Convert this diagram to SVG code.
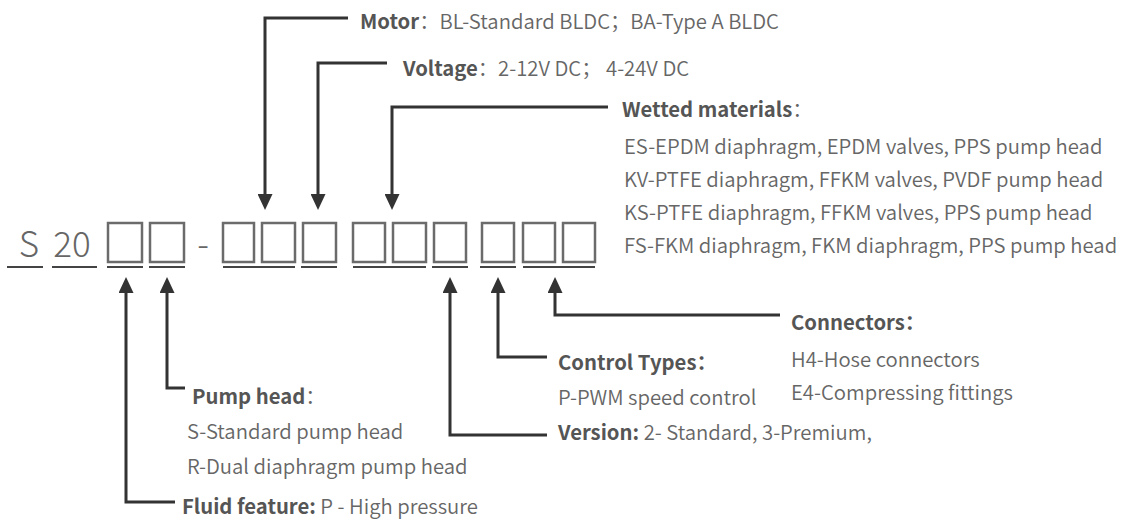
<svg xmlns="http://www.w3.org/2000/svg" width="1127" height="520" viewBox="0 0 1127 520">
<defs>
<style>
text{font-family:"Noto Sans CJK SC","Noto Sans",sans-serif;fill:#666;font-size:20.3px;font-weight:350}
.b{font-weight:bold;fill:#555}
.big{font-size:35px;font-weight:300;fill:#666}
.box{fill:none;stroke:#6b6b6b;stroke-width:2.5}
.ul{stroke:#444;stroke-width:2.2;fill:none}
.ln{fill:none;stroke:#333;stroke-width:3}
</style>
<marker id="ah" viewBox="0 0 16 15" refX="0" refY="7.5" markerWidth="16" markerHeight="15" markerUnits="userSpaceOnUse" orient="auto">
<path d="M0,0 L16,7.5 L0,15 Z" fill="#333"/>
</marker>
</defs>
<rect width="1127" height="520" fill="#fff"/>
<g id="code">
<text class="big" x="29" y="257" text-anchor="middle">S</text>
<text class="big" x="72" y="257" text-anchor="middle">20</text>
<text class="big" x="203" y="257" text-anchor="middle">-</text>
<rect class="box" x="108" y="223" width="34" height="39"/>
<rect class="box" x="150" y="223" width="34" height="39"/>
<rect class="box" x="223" y="223" width="31" height="39"/>
<rect class="box" x="262" y="223" width="33" height="39"/>
<rect class="box" x="303" y="223" width="33" height="39"/>
<rect class="box" x="353" y="223" width="32" height="39"/>
<rect class="box" x="393" y="223" width="33" height="39"/>
<rect class="box" x="434" y="223" width="32" height="39"/>
<rect class="box" x="482" y="223" width="32" height="39"/>
<rect class="box" x="523" y="223" width="32" height="39"/>
<rect class="box" x="563" y="223" width="32" height="39"/>
<path class="ul" d="M7,267H43M52,267H97M107,267H143M149,267H185M223,267H295M301,267H337M353,267H426M432,267H468M480,267H516M523,267H595"/>
</g>
<g id="connectors">
<path class="ln" marker-end="url(#ah)" d="M348,18H265V194"/>
<path class="ln" marker-end="url(#ah)" d="M387,63H318V194"/>
<path class="ln" marker-end="url(#ah)" d="M608,107H392V194"/>
<path class="ln" marker-end="url(#ah)" d="M185,388H167V293"/>
<path class="ln" marker-end="url(#ah)" d="M175,502H126V293"/>
<path class="ln" marker-end="url(#ah)" d="M547,435H450V293"/>
<path class="ln" marker-end="url(#ah)" d="M547,357H498V293"/>
<path class="ln" marker-end="url(#ah)" d="M780,315H555V293"/>
</g>
<g id="motor">
<text x="360" y="29"><tspan class="b">Motor</tspan>：BL-Standard BLDC；BA-Type A BLDC</text>
</g>
<g id="voltage">
<text x="403" y="76"><tspan class="b">Voltage</tspan>：2-12V DC； 4-24V DC</text>
</g>
<g id="wetted">
<text x="622" y="117"><tspan class="b">Wetted materials</tspan>：</text>
<text x="624" y="154">ES-EPDM diaphragm, EPDM valves, PPS pump head</text>
<text x="624" y="187">KV-PTFE diaphragm, FFKM valves, PVDF pump head</text>
<text x="624" y="220">KS-PTFE diaphragm, FFKM valves, PPS pump head</text>
<text x="624" y="253">FS-FKM diaphragm, FKM diaphragm, PPS pump head</text>
</g>
<g id="pumphead">
<text x="192" y="404"><tspan class="b">Pump head</tspan>：</text>
<text x="187" y="439">S-Standard pump head</text>
<text x="187" y="474">R-Dual diaphragm pump head</text>
</g>
<g id="fluid">
<text x="182" y="514"><tspan class="b">Fluid feature:</tspan> P - High pressure</text>
</g>
<g id="control">
<text class="b" x="558" y="370">Control Types：</text>
<text x="558" y="405">P-PWM speed control</text>
</g>
<g id="version">
<text x="558" y="440"><tspan class="b">Version:</tspan> 2- Standard, 3-Premium,</text>
</g>
<g id="conn">
<text class="b" x="791" y="330">Connectors：</text>
<text x="791" y="367">H4-Hose connectors</text>
<text x="791" y="400">E4-Compressing fittings</text>
</g>
</svg>
